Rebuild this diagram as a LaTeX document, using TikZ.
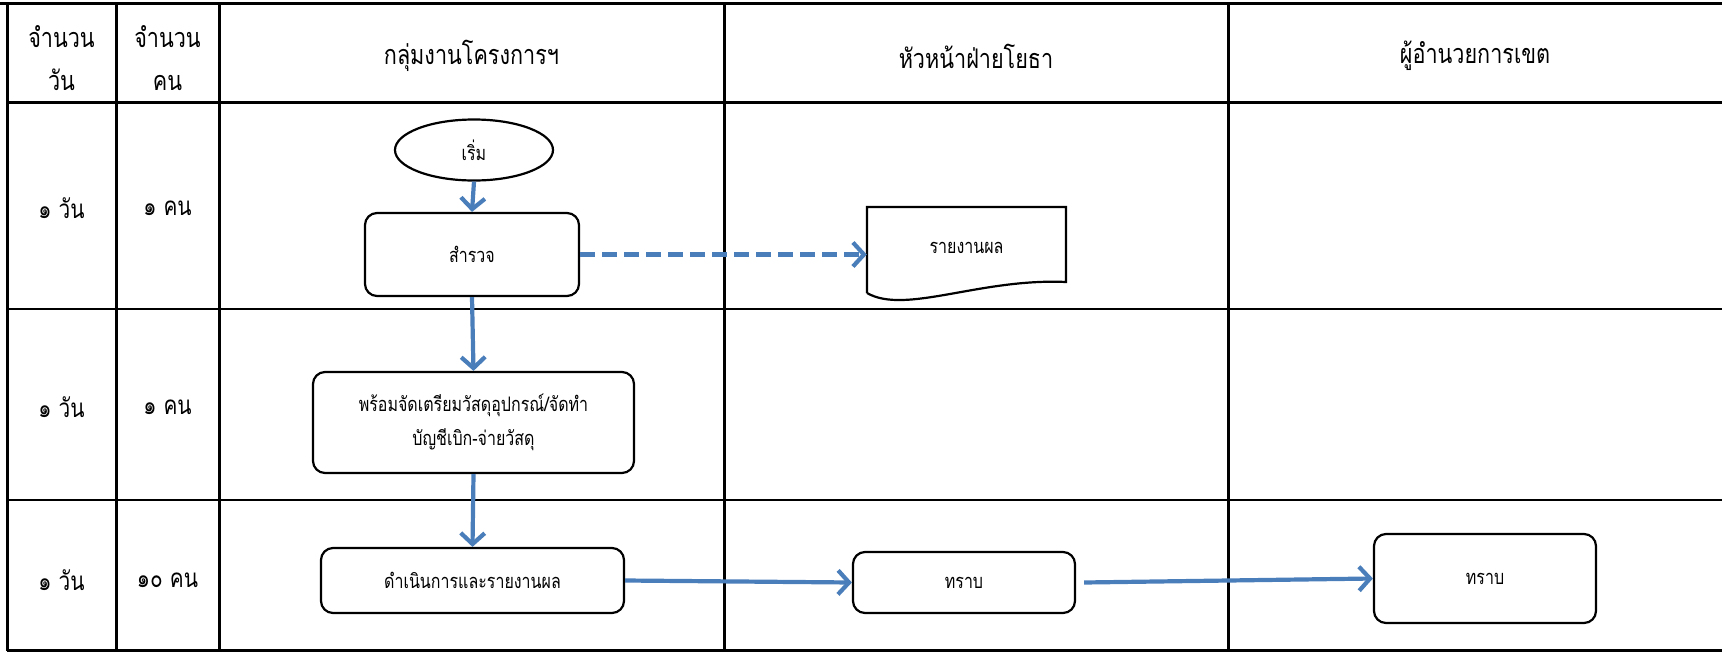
\documentclass[tikz,border=0pt]{standalone}
\usepackage{fontspec}
\setmainfont[Script=Thai,FakeStretch=0.8]{Loma}
\usetikzlibrary{arrows.meta,shapes.geometric}
\definecolor{flow}{RGB}{74,126,187}
\begin{document}
\begin{tikzpicture}[x=1pt,y=-1pt,
  thick rule/.style={line width=3pt,black},
  thin rule/.style={line width=1.4pt,black},
  hdr/.style={align=center,font=\fontsize{27}{43}\selectfont,inner sep=0pt},
  rowlab/.style={font=\fontsize{26}{30}\selectfont,inner sep=0pt},
  proc/.style={draw,line width=2.2pt,rounded corners=12pt,align=center,
    font=\fontsize{20}{34}\selectfont,inner sep=0pt},
  flowarrow/.style={draw=flow,line width=4.2pt,
    -{Straight Barb[length=11pt,width=24pt]}},
]
\useasboundingbox (0,0) rectangle (1722,651);
% grid
\draw[thick rule] (0,3) -- (1722,3);
\draw[thick rule] (7,102) -- (1722,102);
\draw[thin rule] (7,309) -- (1722,309);
\draw[thin rule] (7,500) -- (1722,500);
\draw[thick rule] (7,650) -- (1722,650);
\foreach \x in {7,116,219,724,1228}{\draw[thick rule] (\x,3) -- (\x,651);}
% headers
\node[hdr] (hd) at (61.5,58) {จำนวน\\วัน};
\node[hdr] (hp) at (167.5,58) {จำนวน\\คน};
\node[hdr] (h1) at (471.5,56) {กลุ่มงานโครงการฯ};
\node[hdr] (h2) at (976,56) {หัวหน้าฝ่ายโยธา};
\node[hdr] (h3) at (1475,56) {ผู้อำนวยการเขต};
% row labels
\node[rowlab] (d1) at (61.5,208) {๑ วัน};
\node[rowlab] (p1) at (167.5,208) {๑ คน};
\node[rowlab] (d2) at (61.5,407) {๑ วัน};
\node[rowlab] (p2) at (167.5,407) {๑ คน};
\node[rowlab] (d3) at (61.5,580) {๑ วัน};
\node[rowlab] (p3) at (167.5,580) {๑๐ คน};
% flow nodes
\node[draw,ellipse,line width=2.2pt,minimum width=158pt,minimum height=61pt,
  inner sep=0pt,font=\fontsize{20}{24}\selectfont] (start) at (474,150) {เริ่ม};
\node[proc,minimum width=214pt,minimum height=83pt] (s1) at (472,254.5) {สำรวจ};
\node[proc,minimum width=321pt,minimum height=101pt] (s2) at (473.5,422.5)
  {พร้อมจัดเตรียมวัสดุอุปกรณ์/จัดทำ\\บัญชีเบิก-จ่ายวัสดุ};
\node[proc,minimum width=303pt,minimum height=65pt] (s3) at (472.5,580.5) {ดำเนินการและรายงานผล};
\node[proc,minimum width=222pt,minimum height=61pt] (t1) at (964,582.5) {ทราบ};
\node[proc,minimum width=222pt,minimum height=89pt] (t2) at (1485,578.5) {ทราบ};
% document shape
\node[inner sep=0pt,minimum width=199pt,minimum height=86pt,
  font=\fontsize{20}{24}\selectfont] (doc) at (966.5,250) {\raisebox{4pt}{รายงานผล}};
\draw[line width=2.2pt] (867,293) -- (867,207) -- (1066,207) -- (1066,282)
  .. controls (980,278) and (905,315) .. (867,293);
% connectors
\draw[flowarrow] (start.south) -- (s1.north);
\draw[flowarrow] (s1.south) -- (s2.north);
\draw[flowarrow] (s2.south) -- (s3.north);
\draw[flowarrow,dash pattern=on 15pt off 7pt] (s1.east) -- (s1.east -| doc.west);
\draw[flowarrow] (s3.east) -- (t1.west);
\draw[flowarrow] ([xshift=8pt]t1.east) -- (t2.west);
\end{tikzpicture}
\end{document}
